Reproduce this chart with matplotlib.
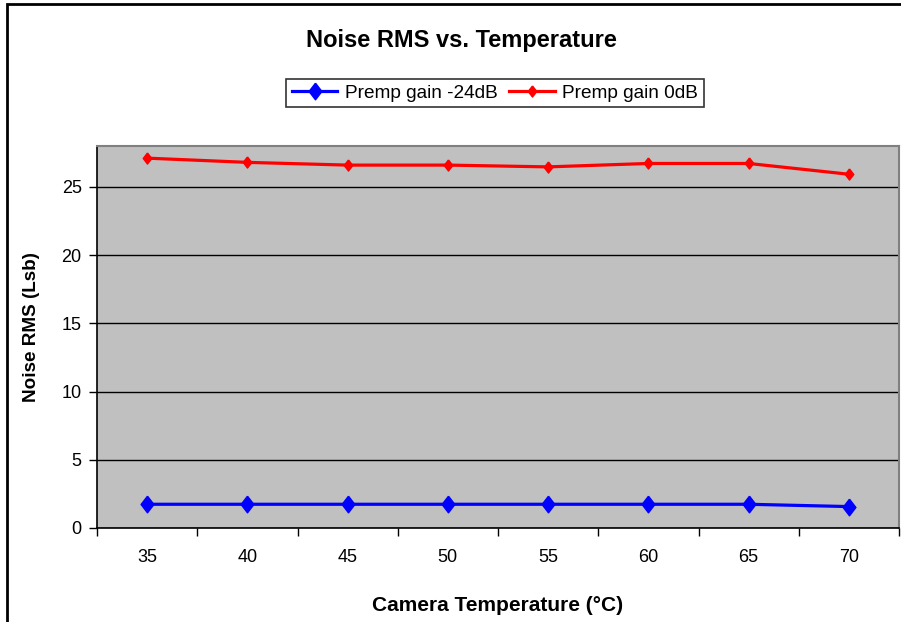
import matplotlib.pyplot as plt
from matplotlib.patches import Rectangle

# Data
temps = ["35", "40", "45", "50", "55", "60", "65", "70"]
gain_m24 = [1.74, 1.74, 1.74, 1.74, 1.74, 1.74, 1.74, 1.57]
gain_0 = [27.11, 26.80, 26.60, 26.60, 26.47, 26.72, 26.72, 25.93]
y_ticks = [0, 5, 10, 15, 20, 25]

plt.rcParams["font.family"] = ["Liberation Sans", "DejaVu Sans"]

fig = plt.figure(figsize=(9.01, 6.22), dpi=100)
ax = fig.add_axes([97 / 901, 1 - 528 / 622, (899 - 97) / 901, (528 - 146) / 622])

# slightly tall diamond, like the spreadsheet markers
diamond = [(0, 1.3), (1, 0), (0, -1.3), (-1, 0), (0, 1.3)]

x = list(range(len(temps)))
ax.plot(x, gain_m24, color="#0000FF", lw=2.3, marker=diamond, ms=12,
        label="Premp gain -24dB", zorder=3)
ax.plot(x, gain_0, color="#FF0000", lw=2.3, marker=diamond, ms=8,
        label="Premp gain 0dB", zorder=3)

ax.set_facecolor("#C0C0C0")
ax.set_xlim(-0.5, len(temps) - 0.5)
ax.set_ylim(0, 28)
ax.set_yticks(y_ticks)
ax.yaxis.grid(True, color="black", lw=1)
ax.set_axisbelow(True)

ax.set_xticks(x)
ax.set_xticklabels(temps)
ax.set_xticks([i - 0.5 for i in range(len(temps) + 1)], minor=True)
ax.tick_params(axis="x", which="major", length=0, pad=15, labelsize=13)
ax.tick_params(axis="x", which="minor", length=6, width=1, direction="out")
ax.tick_params(axis="y", length=6, width=1, labelsize=13, pad=5)

for side in ["left", "bottom"]:
    ax.spines[side].set_color("black")
    ax.spines[side].set_linewidth(1.2)
for side in ["top", "right"]:
    ax.spines[side].set_color("#808080")
    ax.spines[side].set_linewidth(1.5)

ax.set_xlabel("Camera Temperature (°C)", fontsize=15, fontweight="bold", labelpad=22)
ax.set_ylabel("Noise RMS (Lsb)", fontsize=13.6, fontweight="bold")
ax.yaxis.set_label_coords(-57 / 802, (528 - 327) / 382)

fig.text(461 / 901, 1 - 40 / 622, "Noise RMS vs. Temperature",
         ha="center", va="center", fontsize=17, fontweight="bold")

leg = fig.legend(loc="center", bbox_to_anchor=(495 / 901, 1 - 93 / 622), ncol=2,
                 fontsize=13.7, frameon=True, fancybox=False, edgecolor="black",
                 handlelength=2.4, columnspacing=0.6, handletextpad=0.4,
                 borderpad=0.3)
leg.get_frame().set_linewidth(1.2)

# chart outer border (only left and top visible in the crop)
fig.patches.append(Rectangle((7 / 901, -0.1), 1.2, 1 - 4 / 622 + 0.1,
                             transform=fig.transFigure, fill=False,
                             edgecolor="black", lw=2))

plt.savefig("out.png", dpi=100)
